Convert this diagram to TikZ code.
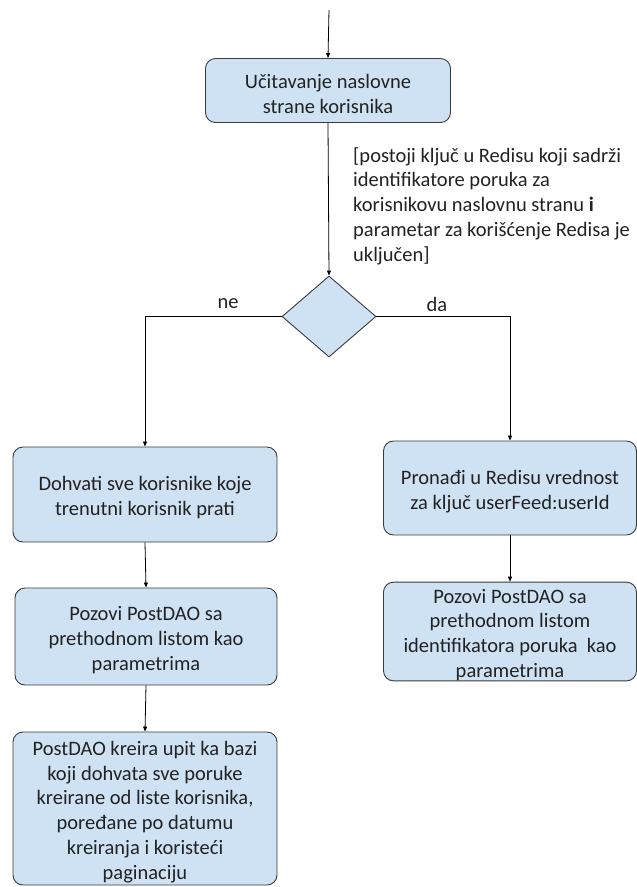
\documentclass[tikz,border=0pt]{standalone}
\usepackage{fontspec}
\setmainfont{Carlito}
\usetikzlibrary{arrows.meta,shapes.geometric}
\definecolor{boxfill}{HTML}{CFE2F3}
\definecolor{boxline}{HTML}{3A3A3A}
\definecolor{txt}{HTML}{222222}
\newcommand\mystrut{\rule{0pt}{21pt}}
\begin{document}
\begin{tikzpicture}[x=1pt,y=-1pt,
  every node/.style={text=txt,font=\fontsize{20.5}{24.8}\selectfont},
  procbox/.style={draw=boxline,line width=0.9pt,fill=boxfill,rounded corners=10pt,align=center,inner sep=0pt},
  flow/.style={draw=black,line width=0.8pt,-{Triangle[length=5pt,width=4pt]}}]
\useasboundingbox (0,0) rectangle (637,887);
\coordinate (start) at (329,10);
\node[procbox,minimum width=245pt,minimum height=64pt] (top) at (328,90.5) {\mystrut Učitavanje naslovne\\strane korisnika};
\node[diamond,draw=boxline,line width=0.9pt,fill=boxfill,inner sep=0pt,minimum width=94pt,minimum height=81pt,aspect=1.16] (dec) at (329,316.5) {};
\node[anchor=north west,align=left,inner sep=0pt] (cond) at (353,147) {[postoji ključ u Redisu koji sadrži\\identifikatore poruka za\\korisnikovu naslovnu stranu \textbf{i}\\parametar za korišćenje Redisa je\\uključen]};
\node[procbox,minimum width=264pt,minimum height=95pt] (l1) at (145,494.5) {\mystrut Dohvati sve korisnike koje\\trenutni korisnik prati};
\node[procbox,minimum width=262pt,minimum height=97pt] (l2) at (146,636.5) {\mystrut Pozovi PostDAO sa\\prethodnom listom kao\\parametrima};
\node[procbox,minimum width=264pt,minimum height=153pt] (l3) at (145,808.5) {\mystrut PostDAO kreira upit ka bazi\\koji dohvata sve poruke\\kreirane od liste korisnika,\\poređane po datumu\\kreiranja i koristeći\\paginaciju};
\node[procbox,minimum width=253pt,minimum height=94pt] (r1) at (510,488) {\mystrut Pronađi u Redisu vrednost\\za ključ userFeed:userId};
\node[procbox,minimum width=253pt,minimum height=97pt] (r2) at (510,631.5) {\mystrut Pozovi PostDAO sa\\prethodnom listom\\identifikatora poruka\ \ kao\\parametrima};
\node (ne) at (228,304) {ne};
\node (da) at (437,304) {da};
\draw[flow] (start) -- (top.north);
\draw[flow] (top.south) -- (dec.north);
\draw[flow] (dec.west) -| (l1.north);
\draw[flow] (dec.east) -| (r1.north);
\draw[flow] (l1.south) -- (l2.north);
\draw[flow] (l2.south) -- (l3.north);
\draw[flow] (r1.south) -- (r2.north);
\end{tikzpicture}
\end{document}
